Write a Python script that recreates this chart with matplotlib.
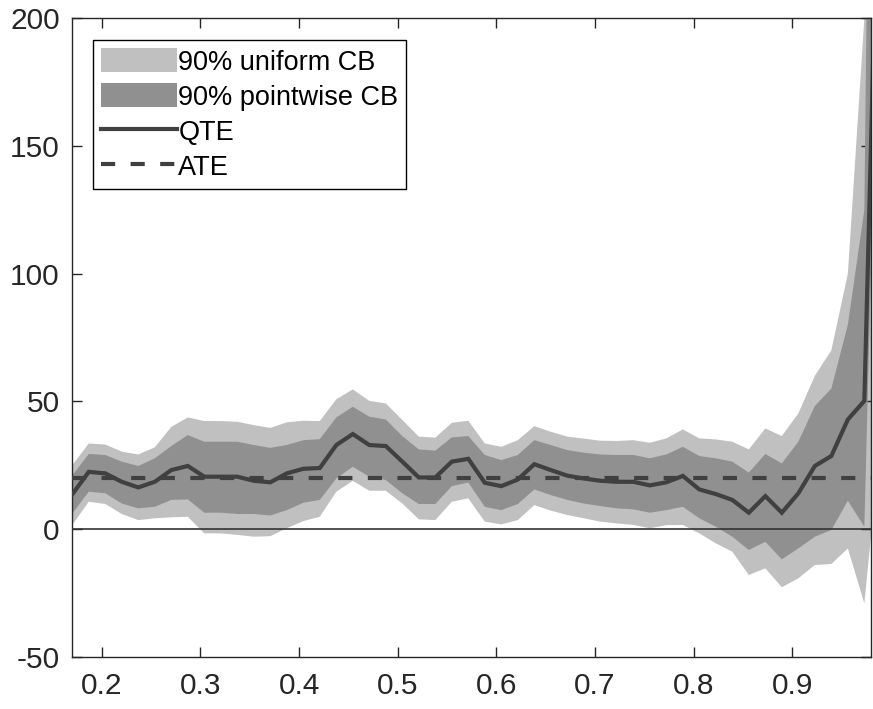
import numpy as np
import matplotlib
matplotlib.use("Agg")
import matplotlib.pyplot as plt
from matplotlib.patches import Patch
from matplotlib.lines import Line2D

plt.rcParams['font.family'] = ['Liberation Sans', 'DejaVu Sans']
plt.rcParams['axes.unicode_minus'] = False

quantiles = np.linspace(0.17, 0.99, 50)

qte = [13.6, 22.4, 21.8, 18.5, 16.3, 18.5, 23.1, 24.7, 20.5, 20.5,
       20.5, 18.9, 18.3, 21.8, 23.6, 23.9, 32.9, 37.2, 32.9, 32.5,
       26.4, 20.2, 20.2, 26.4, 27.5, 18.1, 16.8, 19.4, 25.4, 23.1,
       20.9, 19.8, 18.9, 18.5, 18.5, 17.1, 18.3, 20.8, 15.5, 13.7,
       11.4, 6.4, 12.9, 6.4, 14.0, 24.7, 28.6, 42.9, 50.2, 300.0]

pw_upper = [21.0, 29.4, 29.0, 26.4, 24.7, 27.7, 32.5, 36.8, 34.2, 34.2,
            34.2, 32.9, 31.8, 32.9, 34.8, 35.2, 43.7, 47.9, 44.0, 42.9,
            36.4, 31.2, 30.7, 35.9, 36.4, 29.0, 27.0, 29.0, 34.8, 32.9,
            30.9, 29.9, 29.2, 29.0, 29.0, 27.7, 29.2, 32.2, 28.6, 27.7,
            26.4, 22.1, 29.4, 25.7, 34.2, 48.2, 55.0, 80.0, 125.0, 700.0]

pw_lower = [6.1, 14.6, 14.0, 10.0, 8.1, 8.7, 11.4, 11.6, 6.4, 6.4,
            5.9, 5.9, 5.3, 7.4, 10.3, 11.4, 19.8, 24.4, 20.5, 19.2,
            14.0, 9.8, 9.8, 16.8, 18.2, 8.7, 7.4, 9.8, 15.5, 13.3,
            11.4, 10.0, 9.0, 8.1, 7.7, 6.4, 7.4, 8.7, 4.2, 0.9,
            -3.0, -8.2, -5.0, -11.9, -7.6, -3.0, -0.4, 11.1, 0.9, 250.0]

unif_upper = [25.0, 33.5, 33.1, 30.3, 29.2, 32.0, 40.0, 43.7, 42.3, 42.3,
              42.0, 40.7, 39.6, 41.8, 42.4, 42.3, 50.8, 54.7, 50.2, 49.2,
              42.7, 36.2, 35.8, 41.6, 42.4, 33.5, 32.2, 34.8, 40.3, 38.1,
              36.2, 35.4, 34.6, 34.5, 34.8, 33.8, 35.5, 39.0, 35.5, 35.1,
              34.2, 31.2, 39.4, 36.4, 45.3, 60.0, 70.0, 100.0, 200.0, 1000.0]

unif_lower = [1.6, 10.7, 9.8, 5.9, 3.5, 4.2, 4.6, 4.8, -1.7, -1.7,
              -2.3, -3.0, -2.8, 0.3, 3.1, 4.8, 14.6, 18.9, 15.0, 15.0,
              10.0, 3.8, 3.5, 10.7, 12.0, 2.9, 1.8, 3.5, 9.4, 7.2,
              5.5, 4.2, 2.9, 2.2, 1.6, 0.3, 1.5, 1.6, -1.7, -5.6,
              -8.9, -18.0, -15.4, -22.8, -19.3, -14.1, -13.7, -7.6, -29.1, 36.0]

ate = 20.0

x_ticks = [0.2, 0.3, 0.4, 0.5, 0.6, 0.7, 0.8, 0.9]
y_ticks = [-50, 0, 50, 100, 150, 200]
labels = ['90% uniform CB', '90% pointwise CB', 'QTE', 'ATE']

light = (0.753, 0.753, 0.753)
dark = (0.565, 0.565, 0.565)
linec = (0.25, 0.25, 0.25)

fig = plt.figure(figsize=(8.73, 7.09), dpi=100)
ax = fig.add_axes([0.0828, 0.0738, 0.9149, 0.9002])

ax.fill_between(quantiles, unif_lower, unif_upper, color=light, lw=0, zorder=1)
ax.fill_between(quantiles, pw_lower, pw_upper, color=dark, lw=0, zorder=2)
ax.axhline(0, color=(0.2, 0.2, 0.2), lw=1.2, zorder=3)
ax.plot(quantiles, qte, color=linec, lw=3, zorder=4, solid_joinstyle='miter')
ax.plot([quantiles[0], quantiles[-1]], [ate, ate], color=linec, lw=3,
        dashes=(3.4, 3.7), zorder=4)

ax.set_xlim(0.17, 0.98)
ax.set_ylim(-50, 200)
ax.set_xticks(x_ticks)
ax.set_xticklabels([f"{t:.1f}" for t in x_ticks])
ax.set_yticks(y_ticks)
ax.set_yticklabels([str(t) for t in y_ticks])
ax.tick_params(direction='in', length=7, width=1, top=True, right=True,
               labelsize=21.5, colors=(0.15, 0.15, 0.15))
ax.tick_params(axis='x', pad=11)
ax.tick_params(axis='y', pad=9)
for s in ax.spines.values():
    s.set_linewidth(1)
    s.set_color((0.15, 0.15, 0.15))

handles = [Patch(facecolor=light, edgecolor='none'),
           Patch(facecolor=dark, edgecolor='none'),
           Line2D([], [], color=linec, lw=3),
           Line2D([], [], color=linec, lw=3, dashes=(3.4, 3.7))]
leg = ax.legend(handles, labels, loc='upper left', bbox_to_anchor=(0.026, 0.966),
                borderaxespad=0, fontsize=19.5, frameon=True, fancybox=False,
                edgecolor='black', framealpha=1, handlelength=2.8,
                handleheight=1.0, handletextpad=0.05, labelspacing=0.28,
                borderpad=0.3)
leg.get_frame().set_linewidth(1)

fig.savefig("out.png", dpi=100)
